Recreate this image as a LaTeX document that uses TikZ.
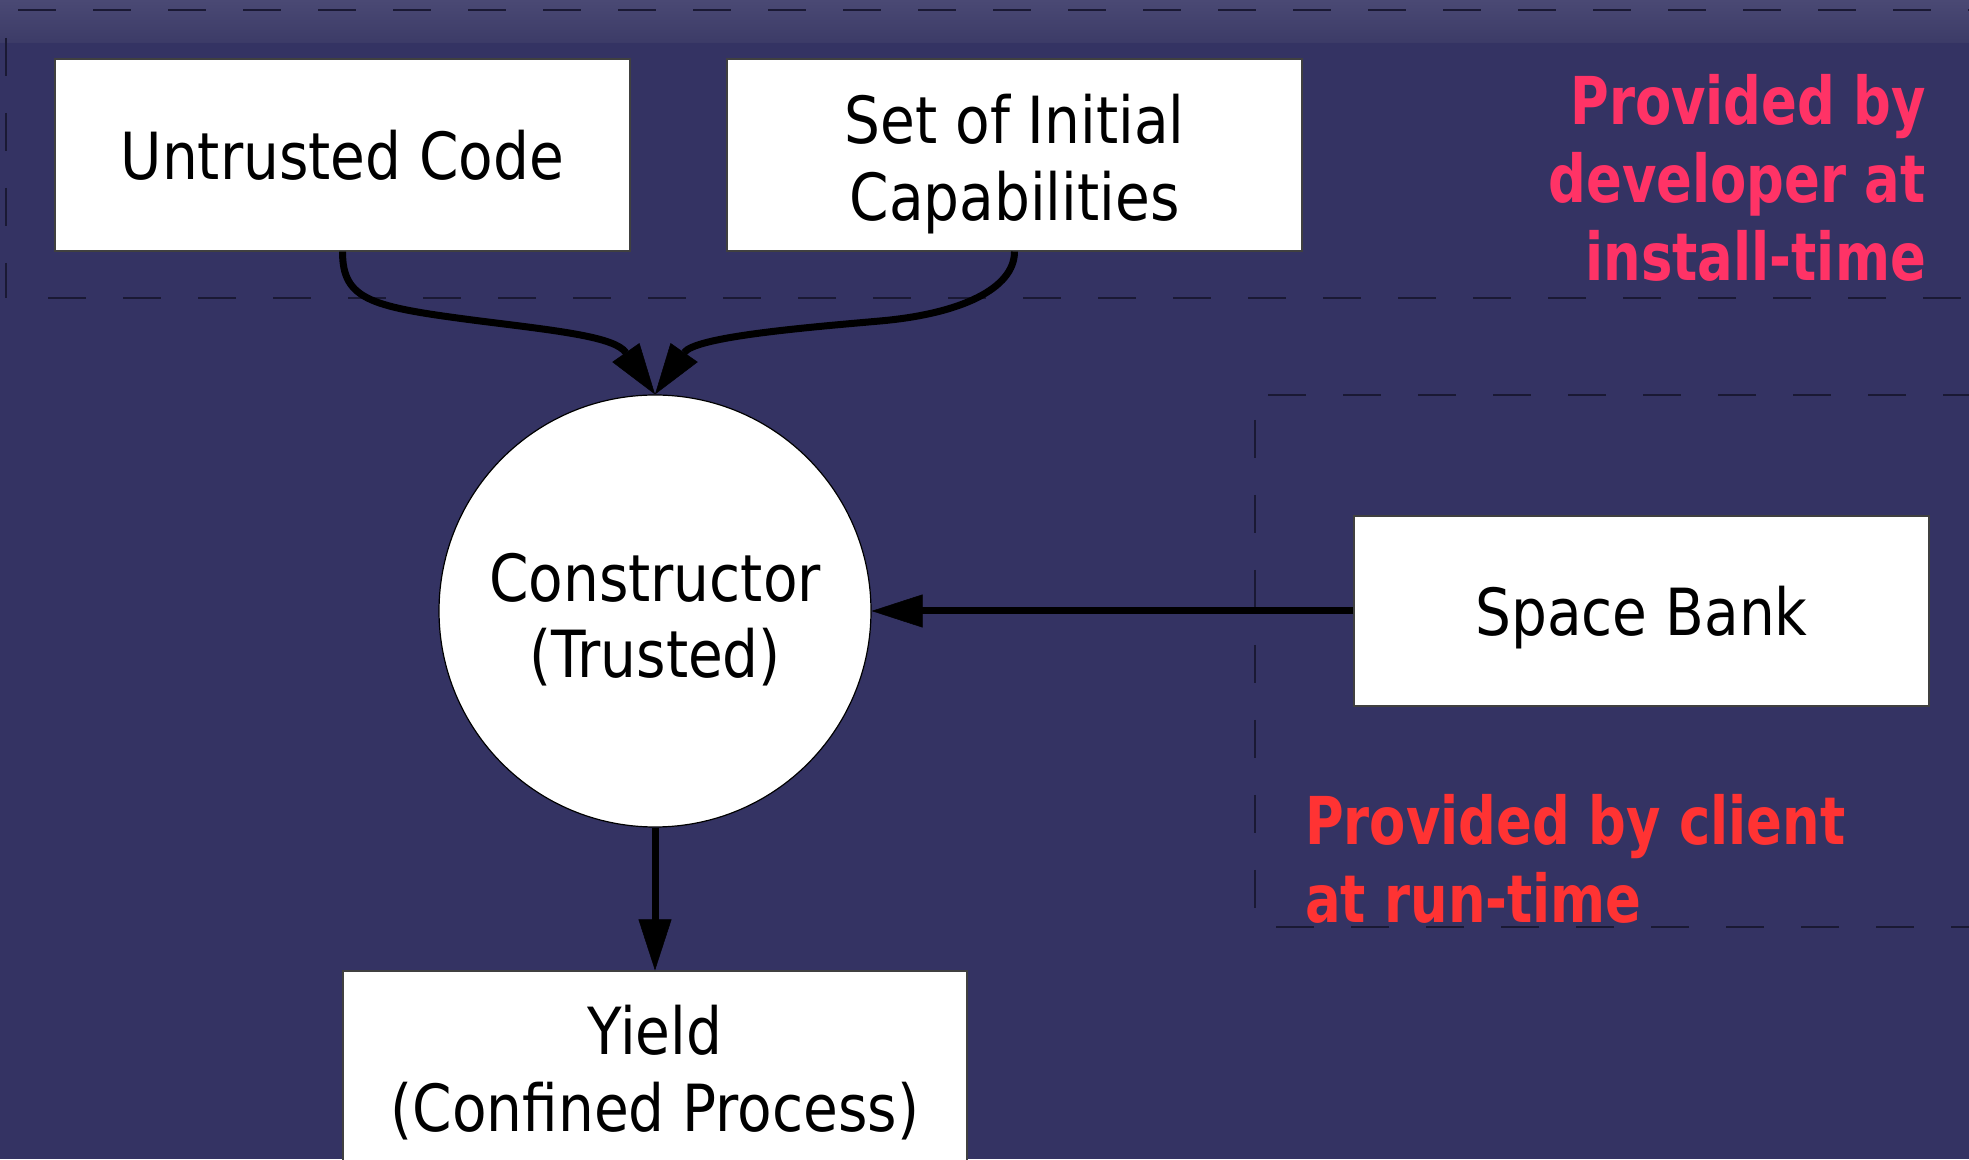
\documentclass[tikz,border=0pt]{standalone}
\usepackage{fontspec}
\setmainfont{DejaVu Sans}[FakeStretch=0.87]
\newfontfamily\notefont{DejaVu Sans}[FakeStretch=0.80]
\usetikzlibrary{arrows.meta}

\definecolor{navy}{RGB}{52,51,99}
\definecolor{bandtop}{RGB}{74,73,116}
\definecolor{bandbot}{RGB}{60,59,103}
\definecolor{dashcol}{RGB}{26,25,52}
\definecolor{devpink}{RGB}{255,51,102}
\definecolor{clientred}{RGB}{255,51,51}

\tikzset{
  card/.style={draw=black!75, line width=1.2pt, fill=white,
    minimum width=575pt, minimum height=192pt, inner sep=0pt},
  hub/.style={circle, draw=black, line width=1.2pt, fill=white,
    minimum size=432pt, inner sep=0pt},
  cardtext/.style={inner sep=0pt, align=center,
    font=\fontsize{65}{77}\selectfont},
  hubtext/.style={inner sep=0pt, align=center,
    font=\fontsize{65}{76}\selectfont},
  flow/.style={line width=7pt,
    -{Triangle[length=51pt,width=33pt,line width=0.5pt]}},
  zone/.style={draw=dashcol, line width=2pt, dash pattern=on 38pt off 37pt},
  note/.style={inner sep=0pt, font=\notefont\bfseries\fontsize{66}{78}\selectfont}
}

\begin{document}
\begin{tikzpicture}[x=1pt,y=1pt]
  \clip (0,0) rectangle (1969,1159);

  % page background and top band
  \fill[navy] (0,0) rectangle (1969,1159);
  \shade[top color=bandtop, bottom color=bandbot] (0,1116) rectangle (1969,1159);

  % install-time region outline
  \draw[zone] (18,1149) -- (1969,1149);
  \draw[zone] (6,1121) -- (6,861);
  \draw[zone] (48,861) -- (1969,861);

  % run-time region outline
  \draw[zone] (1268,764) -- (1969,764);
  \draw[zone] (1255,739) -- (1255,249);
  \draw[zone] (1276,232) -- (1969,232);

  % boxes, with their captions set on the text baseline
  \node[card, label={[cardtext]center:Untrusted Code}] (uc) at (342.5,1004) {};
  \node[card, label={[cardtext, yshift=-9pt]center:{Set of Initial\\Capabilities}}]
    (sic) at (1014.5,1004) {};
  \node[hub, label={[hubtext, yshift=-9pt]center:{Constructor\\(Trusted)}}]
    (con) at (655,548) {};
  \node[card, minimum height=190pt, label={[cardtext, yshift=-7pt]center:Space Bank}]
    (sb) at (1641.5,548) {};
  \node[card, minimum width=624pt,
    label={[cardtext, yshift=-6pt]center:{Yield\\(Confined Process)}}]
    (yield) at (655,92) {};

  % connectors
  \draw[flow] (uc.south) .. controls (342.5,858) and (372,852) .. (480,838)
                         .. controls (560,828) and (615,822) .. (con.north);
  \draw[flow] (sic.south) .. controls (1014.5,870) and (960,845) .. (880,838)
                          .. controls (800,831) and (695,822) .. (con.north);
  \draw[flow] (sb.west) -- (con.east);
  \draw[flow] (con.south) -- (yield.north);

  % region notes
  \node[note, text=devpink, anchor=north east, align=right] (devnote)
    at (1926,1085) {Provided by\\developer at\\install-time};
  \node[note, text=clientred, anchor=north west, align=left] (clientnote)
    at (1305,365) {Provided by client\\at run-time};
\end{tikzpicture}
\end{document}
